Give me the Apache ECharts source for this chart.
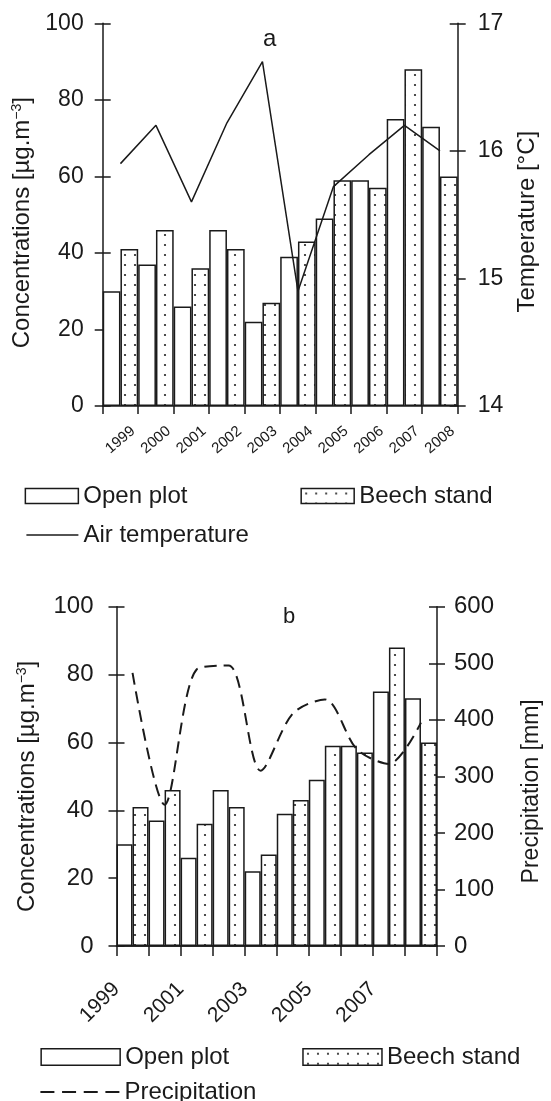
<!DOCTYPE html>
<html><head><meta charset="utf-8">
<script src="https://cdn.jsdelivr.net/npm/echarts@6/dist/echarts.min.js"></script>
<style>html,body{margin:0;padding:0;background:#fff}#c{width:551px;height:1101px}</style>
</head><body><div id="c"></div>
<script>
const years = ['1999','2000','2001','2002','2003','2004','2005','2006','2007','2008'];
const openPlot = [30, 37, 26, 46, 22, 39, 49, 59, 75, 73];
const beechStand = [41, 46, 36, 41, 27, 43, 59, 57, 88, 60];
const airTemperature = [15.9, 16.2, 15.6, 16.22, 16.7, 14.9, 15.72, 15.97, 16.2, 16.0];
const precipitation = [483, 250, 489, 496, 310, 411, 436, 348, 322, 395];
const bottomTickLabels = ['1999', '2001', '2003', '2005', '2007'];

const FONT = "'Liberation Sans', Arial, sans-serif";
const INK = '#1a1a1a';

const pc = document.createElement('canvas');
pc.width = 10; pc.height = 10;
const pctx = pc.getContext('2d');
pctx.fillStyle = '#fff'; pctx.fillRect(0, 0, 10, 10);
pctx.fillStyle = '#222'; pctx.beginPath(); pctx.arc(5, 5, 1.1, 0, Math.PI * 2); pctx.fill();
const dots = { image: pc, repeat: 'repeat' };

const lineS = { color: INK, width: 1.5 };

function yAxis(grid, min, max, interval, pos, opts) {
  const base = {
    gridIndex: grid, type: 'value', min: min, max: max, interval: interval, position: pos,
    axisLine: { show: true, lineStyle: lineS },
    axisTick: { show: true, length: 8, inside: false, lineStyle: lineS },
    axisLabel: { show: true, fontSize: opts.fs, color: INK, fontFamily: FONT, margin: opts.margin },
    splitLine: { show: false }
  };
  if (opts.name) {
    base.name = opts.name;
    base.nameLocation = 'middle';
    base.nameRotate = 90;
    base.nameGap = opts.nameGap;
    base.nameTextStyle = {
      fontSize: opts.nfs, color: INK, fontFamily: FONT, padding: [0, opts.pad, 0, 0],
      rich: { sup: { fontSize: Math.round(opts.nfs * 0.6), color: INK, fontFamily: FONT, verticalAlign: 'top', lineHeight: opts.nfs * 0.75 } }
    };
  }
  return base;
}
function yDup(grid, min, max, interval, pos) {
  return {
    gridIndex: grid, type: 'value', min: min, max: max, interval: interval, position: pos,
    axisLine: { show: false },
    axisTick: { show: true, length: 8, inside: true, lineStyle: lineS },
    axisLabel: { show: false }, splitLine: { show: false }
  };
}

const barBase = { type: 'bar', barGap: '0%', barCategoryGap: '0%' };
const openStyle = { color: '#fff', borderColor: INK, borderWidth: 1.5 };
const beechStyle = { color: dots, borderColor: INK, borderWidth: 1.5 };
const legText = { fontSize: 24, color: INK, fontFamily: FONT };
const dashIcon = 'path://M0,0h14v2h-14zM21.67,0h14v2h-14zM43.33,0h14v2h-14zM65,0h14v2h-14z';

const chart = echarts.init(document.getElementById('c'), null, { renderer: 'canvas' });
chart.setOption({
  backgroundColor: '#fff',
  animation: false,
  textStyle: { fontFamily: FONT, color: INK },
  title: [
    { text: 'a', left: 263, top: 27, padding: 0, textStyle: { fontSize: 24, fontWeight: 'normal', color: INK, fontFamily: FONT } },
    { text: 'b', left: 283, top: 606, padding: 0, textStyle: { fontSize: 22, fontWeight: 'normal', color: INK, fontFamily: FONT } }
  ],
  grid: [
    { left: 102.7, top: 23.3, width: 355, height: 382.7 },
    { left: 116.5, top: 606.7, width: 327.5, height: 339.3 }
  ],
  legend: [
    { data: [{ name: 'Open plot', icon: 'rect' }, { name: 'Beech stand', icon: 'rect' }], left: 24.6, top: 484, padding: 0,
      itemWidth: 53, itemHeight: 15, itemGap: 113, itemTextGap: 6,
      textStyle: legText, itemStyle: { borderColor: INK, borderWidth: 1.5 }, selectedMode: false },
    { data: [{ name: 'Air temperature', icon: 'rect' }], left: 26.4, top: 523, padding: 0, itemWidth: 52, itemHeight: 1.6, itemTextGap: 6,
      textStyle: legText, itemStyle: { color: INK, borderWidth: 0 }, selectedMode: false },
    { data: [{ name: 'Open plot', icon: 'rect' }, { name: 'Beech stand', icon: 'rect' }], left: 40.4, top: 1045, padding: 0,
      itemWidth: 79, itemHeight: 16.5, itemGap: 73, itemTextGap: 9,
      textStyle: legText, itemStyle: { borderColor: INK, borderWidth: 1.5 }, selectedMode: false },
    { data: [{ name: 'Precipitation', icon: dashIcon }], left: 40.4, top: 1080, padding: 0, itemWidth: 79, itemHeight: 2, itemTextGap: 9,
      textStyle: legText, itemStyle: { color: INK, borderWidth: 0 }, selectedMode: false }
  ],
  xAxis: [
    { gridIndex: 0, type: 'category', data: years, boundaryGap: true, position: 'bottom',
      axisLine: { show: true, lineStyle: lineS },
      axisTick: { show: true, length: 8, interval: 0, lineStyle: lineS },
      axisLabel: { interval: 0, rotate: 40, align: 'center', verticalAlign: 'middle', margin: 34, fontSize: 15, color: INK, fontFamily: FONT },
      splitLine: { show: false } },
    { gridIndex: 1, type: 'category', data: years, boundaryGap: true, position: 'bottom',
      axisLine: { show: true, lineStyle: lineS }, axisTick: { show: false }, axisLabel: { show: false }, splitLine: { show: false } },
    { gridIndex: 1, type: 'value', min: 0, max: 10, interval: 1, position: 'bottom',
      axisLine: { show: true, lineStyle: lineS },
      axisTick: { show: true, length: 10, lineStyle: lineS },
      axisLabel: { rotate: 45, margin: 40, fontSize: 21, color: INK, fontFamily: FONT, showMaxLabel: true,
        formatter: function (v) { return (v % 2 === 0 && bottomTickLabels[v / 2]) ? bottomTickLabels[v / 2] : ''; } },
      splitLine: { show: false } }
  ],
  yAxis: [
    yAxis(0, 0, 100, 20, 'left', { fs: 23, margin: 19, name: 'Concentrations [µg.m{sup|−3}]', nameGap: 64, nfs: 24, pad: 16 }),
    yAxis(0, 14, 17, 1, 'right', { fs: 23, margin: 20, name: 'Temperature [°C]', nameGap: 58, nfs: 24, pad: 14 }),
    yAxis(1, 0, 100, 20, 'left', { fs: 24, margin: 23, name: 'Concentrations [µg.m{sup|−3}]', nameGap: 77, nfs: 24, pad: 20 }),
    yAxis(1, 0, 600, 100, 'right', { fs: 24, margin: 17, name: 'Precipitation [mm]', nameGap: 83, nfs: 23, pad: 30 }),
    yDup(0, 0, 100, 20, 'left'),
    yDup(0, 14, 17, 1, 'right'),
    yDup(1, 0, 100, 20, 'left'),
    yDup(1, 0, 600, 100, 'right')
  ],
  series: [
    Object.assign({}, barBase, { name: 'Open plot', xAxisIndex: 0, yAxisIndex: 0, data: openPlot, itemStyle: openStyle }),
    Object.assign({}, barBase, { name: 'Beech stand', xAxisIndex: 0, yAxisIndex: 0, data: beechStand, itemStyle: beechStyle }),
    { type: 'line', name: 'Air temperature', xAxisIndex: 0, yAxisIndex: 1, data: airTemperature, symbol: 'none', z: 5,
      lineStyle: { color: INK, width: 1.5 }, itemStyle: { color: INK } },
    Object.assign({}, barBase, { name: 'Open plot', xAxisIndex: 1, yAxisIndex: 2, data: openPlot, itemStyle: openStyle }),
    Object.assign({}, barBase, { name: 'Beech stand', xAxisIndex: 1, yAxisIndex: 2, data: beechStand, itemStyle: beechStyle }),
    { type: 'line', name: 'Precipitation', xAxisIndex: 1, yAxisIndex: 3, data: precipitation, symbol: 'none', smooth: 0.3, z: 5,
      lineStyle: { color: INK, width: 2, type: [12, 7] }, itemStyle: { color: INK } }
  ]
});
</script>
</body></html>
